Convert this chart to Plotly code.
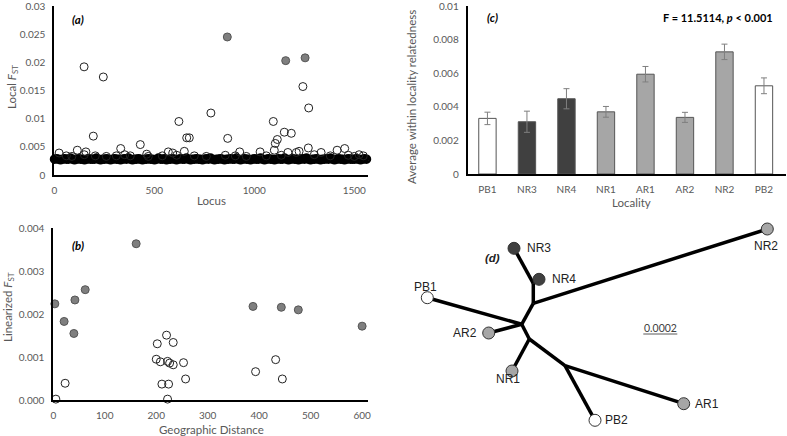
import plotly.graph_objects as go

W, H = 787, 436

# ---------------- (a) Local FST by locus ----------------
band_fst = [
    0.0028, 0.0029, 0.0028, 0.0027, 0.0028, 0.0029, 0.0028, 0.0028, 0.0030, 0.0028,
    0.0027, 0.0028, 0.0029, 0.0028, 0.0028, 0.0027, 0.0028, 0.0029, 0.0028, 0.0028,
    0.0028, 0.0030, 0.0028, 0.0027, 0.0028, 0.0028, 0.0029, 0.0028, 0.0027, 0.0028,
    0.0029, 0.0028, 0.0028, 0.0027, 0.0028, 0.0029, 0.0028, 0.0030, 0.0028, 0.0027,
    0.0028, 0.0028, 0.0029, 0.0028, 0.0027, 0.0028, 0.0028, 0.0029, 0.0028, 0.0028,
    0.0027, 0.0028, 0.0030, 0.0028, 0.0028, 0.0029, 0.0027, 0.0028, 0.0028, 0.0029,
    0.0028, 0.0027, 0.0028, 0.0029, 0.0028, 0.0028, 0.0030, 0.0028, 0.0027, 0.0028,
    0.0028, 0.0029, 0.0028, 0.0028, 0.0027, 0.0028, 0.0029, 0.0028, 0.0030, 0.0028,
    0.0027, 0.0028, 0.0028, 0.0029, 0.0028, 0.0027, 0.0028, 0.0028, 0.0029, 0.0028,
    0.0028, 0.0030, 0.0028, 0.0027, 0.0028, 0.0029, 0.0028, 0.0028, 0.0027, 0.0028,
    0.0029, 0.0028, 0.0028, 0.0030, 0.0028, 0.0027, 0.0028, 0.0029, 0.0028, 0.0028,
    0.0027, 0.0028, 0.0029, 0.0028, 0.0028, 0.0030, 0.0028, 0.0027, 0.0028, 0.0029,
    0.0028, 0.0028, 0.0027, 0.0028, 0.0029, 0.0028, 0.0030, 0.0028, 0.0027, 0.0028,
    0.0028, 0.0029, 0.0028, 0.0027, 0.0028, 0.0028, 0.0029, 0.0028, 0.0030, 0.0028,
    0.0027, 0.0028, 0.0029, 0.0028, 0.0028, 0.0027, 0.0028, 0.0029, 0.0028, 0.0028,
    0.0028, 0.0029, 0.0028, 0.0027, 0.0028, 0.0029, 0.0028,
]
band_locus = list(range(1, 1 + 10 * len(band_fst), 10))

open_locus = [24, 115, 149, 158, 195, 245, 332, 430, 462, 570, 592, 623, 650, 662, 675,
              783, 867, 927, 1029, 1095, 1100, 1105, 1115, 1150, 1168, 1185, 1210, 1224,
              1243, 1270, 1272, 1334, 1414, 1452, 1524,
              60, 88, 150, 205, 260, 310, 352, 380, 470, 540, 612, 700, 760, 855, 905,
              960, 1060, 1135, 1300, 1380, 1470, 1500, 1545]
open_fst = [0.0039, 0.0044, 0.0192, 0.0041, 0.0069, 0.0174, 0.0047, 0.0054, 0.0037, 0.0041,
            0.0039, 0.0095, 0.0042, 0.0066, 0.0066, 0.0110, 0.0065, 0.0041, 0.0041, 0.0095,
            0.0044, 0.0056, 0.0063, 0.0076, 0.0040, 0.0074, 0.0040, 0.0042, 0.0157, 0.0048,
            0.0119, 0.0040, 0.0044, 0.0047, 0.0036,
            0.0034, 0.0033, 0.0036, 0.0034, 0.0033, 0.0034, 0.0036, 0.0034, 0.0033, 0.0034,
            0.0035, 0.0034, 0.0033, 0.0035, 0.0034, 0.0033, 0.0034, 0.0035, 0.0036, 0.0034,
            0.0035, 0.0033, 0.0034]
outlier_locus = [865, 1157, 1254]
outlier_fst = [0.0245, 0.0203, 0.0208]

# ---------------- (b) Isolation by distance ----------------
gray_dist = [3, 21, 40, 42, 62, 161, 388, 443, 476, 600]
gray_fst = [0.00224, 0.00183, 0.00155, 0.00233, 0.00257, 0.00364, 0.00218, 0.00216, 0.00210, 0.00172]
open_dist = [5, 23, 202, 220, 233, 200, 208, 222, 226, 233, 253, 211, 224, 257, 222, 393, 432, 445]
open_lfst = [0.00002, 0.00039, 0.00131, 0.00151, 0.00134, 0.00095, 0.00089, 0.00090, 0.00086,
             0.00082, 0.00087, 0.00037, 0.00037, 0.00049, 0.00002, 0.00066, 0.00094, 0.00049]

# ---------------- (c) Relatedness by locality ----------------
localities = ["PB1", "NR3", "NR4", "NR1", "AR1", "AR2", "NR2", "PB2"]
relatedness = [0.00331, 0.00311, 0.00448, 0.00370, 0.00594, 0.00337, 0.00727, 0.00525]
rel_err = [0.00037, 0.00063, 0.00060, 0.00032, 0.00046, 0.00030, 0.00046, 0.00047]

# ---------------- (d) Tree (layout units) ----------------
tip_names = ["NR3", "NR4", "PB1", "AR2", "NR1", "PB2", "AR1", "NR2"]
tip_x = [119.0, 144.0, 32.3, 93.7, 117.0, 200.0, 288.7, 372.3]
tip_y = [33.3, 64.3, 82.7, 118.0, 156.0, 205.3, 188.7, 14.0]
inner_names = ["n1", "n2", "n3", "n4", "n5"]
inner_x = [138.3, 138.3, 126.7, 134.3, 170.0]
inner_y = [68.3, 88.3, 109.3, 124.0, 150.7]
edges = [("NR3", "n1"), ("n1", "NR4"), ("n1", "n2"), ("n2", "NR2"), ("n2", "n3"),
         ("PB1", "n3"), ("AR2", "n3"), ("n3", "n4"), ("n4", "NR1"), ("n4", "n5"),
         ("n5", "PB2"), ("n5", "AR1")]
scale_len = 34.0  # tree layout units for a 0.0002 branch

# ---------------- styling ----------------
TICK_FONT = dict(family="Lato, 'Open Sans', sans-serif", size=10, color="#595959")


def bar_col(name):
    if name.startswith("PB"):
        return "#ffffff"
    if name in ("NR3", "NR4"):
        return "#404040"
    return "#a6a6a6"


def px(x0, x1):
    return [x0 / W, x1 / W]


def py(ytop, ybot):
    return [1 - ybot / H, 1 - ytop / H]


fig = go.Figure()

# (a)
fig.add_trace(go.Scatter(x=band_locus, y=band_fst, mode="markers", xaxis="x", yaxis="y",
                         marker=dict(symbol="circle-open", size=7, color="black",
                                     line=dict(width=2.5, color="black")),
                         cliponaxis=False, showlegend=False, hoverinfo="skip"))
fig.add_trace(go.Scatter(x=open_locus, y=open_fst, mode="markers", xaxis="x", yaxis="y",
                         marker=dict(symbol="circle-open", size=8, color="#222222",
                                     line=dict(width=1)),
                         cliponaxis=False, showlegend=False))
fig.add_trace(go.Scatter(x=outlier_locus, y=outlier_fst, mode="markers", xaxis="x", yaxis="y",
                         marker=dict(symbol="circle", size=8, color="#7f7f7f",
                                     line=dict(width=1, color="#555555")),
                         cliponaxis=False, showlegend=False))

# (b)
fig.add_trace(go.Scatter(x=open_dist, y=open_lfst, mode="markers", xaxis="x2", yaxis="y2",
                         marker=dict(symbol="circle-open", size=8, color="#222222",
                                     line=dict(width=1)),
                         cliponaxis=False, showlegend=False))
fig.add_trace(go.Scatter(x=gray_dist, y=gray_fst, mode="markers", xaxis="x2", yaxis="y2",
                         marker=dict(symbol="circle", size=8, color="#7f7f7f",
                                     line=dict(width=1, color="#555555")),
                         cliponaxis=False, showlegend=False))

# (c)
fig.add_trace(go.Bar(x=list(range(len(localities))), y=relatedness, xaxis="x3", yaxis="y3",
                     width=0.44,
                     marker=dict(color=[bar_col(n) for n in localities],
                                 line=dict(color="#555555", width=1)),
                     error_y=dict(type="data", array=rel_err, visible=True,
                                  color="#7f7f7f", thickness=1, width=3),
                     showlegend=False))

# (d)
pos = {n: (x, y) for n, x, y in zip(tip_names, tip_x, tip_y)}
pos.update({n: (x, y) for n, x, y in zip(inner_names, inner_x, inner_y)})
ex, ey = [], []
for a, b in edges:
    ex += [pos[a][0], pos[b][0], None]
    ey += [pos[a][1], pos[b][1], None]
fig.add_trace(go.Scatter(x=ex, y=ey, mode="lines", xaxis="x4", yaxis="y4",
                         line=dict(color="black", width=3.5), showlegend=False,
                         hoverinfo="skip"))
fig.add_trace(go.Scatter(x=tip_x, y=tip_y, mode="markers", xaxis="x4", yaxis="y4",
                         marker=dict(size=12, color=[bar_col(n) for n in tip_names],
                                     line=dict(color="#333333", width=1)),
                         showlegend=False, cliponaxis=False))

label_anchor = {"NR3": ("left", 11, 0), "NR4": ("left", 11, 0), "PB1": ("center", -2, -11),
                "AR2": ("right", -10, 0), "NR1": ("center", -4, 8), "PB2": ("left", 8, 0),
                "AR1": ("left", 9, 0), "NR2": ("center", -1, 17)}
annotations = []
for n, x, y in zip(tip_names, tip_x, tip_y):
    anc, dx, dy = label_anchor[n]
    annotations.append(dict(x=x, y=y, xref="x4", yref="y4", text=n, showarrow=False,
                            xanchor=anc, yanchor="middle", xshift=dx, yshift=-dy,
                            font=dict(family="Liberation Sans, Arial", size=12, color="#222222")))

# scale bar
fig.add_shape(type="line", xref="x4", yref="y4", x0=248.3, x1=248.3 + scale_len, y0=119, y1=119,
              line=dict(color="#595959", width=1))
annotations.append(dict(x=248.3 + scale_len / 2, y=113.3, xref="x4", yref="y4", text="0.0002",
                        showarrow=False, xanchor="center", yanchor="middle",
                        font=dict(family="Lato, 'Open Sans', sans-serif", size=10.5, color="#404040")))


def ann(x, y, text, size=11.5, angle=0, color="#595959", family="Lato, 'Open Sans', sans-serif",
        xanchor="center"):
    annotations.append(dict(x=x / W, y=1 - y / H, xref="paper", yref="paper", text=text,
                            showarrow=False, textangle=angle, xanchor=xanchor, yanchor="middle",
                            font=dict(family=family, size=size, color=color)))


# axis titles
ann(13, 87, "Local <i>F</i><sub>ST</sub>", angle=-90)
ann(211, 200, "Locus")
ann(8, 307, "Linearized <i>F</i><sub>ST</sub>", angle=-90)
ann(211, 429, "Geographic Distance")
ann(412, 97, "Average within locality relatedness", angle=-90)
ann(631, 203, "Locality")

# panel letters
ann(78, 19, "<b><i>(a)</i></b>", size=11.5, color="black")
ann(78, 246, "<b><i>(b)</i></b>", size=11.5, color="black")
ann(492, 18, "<b><i>(c)</i></b>", size=11.5, color="black")
ann(492, 258, "<b><i>(d)</i></b>", size=11.5, color="#222222", family="Liberation Sans, Arial")
ann(718, 18, "<b>F = 11.5114, <i>p</i> < 0.001</b>", size=11, color="black")

axis_common = dict(showgrid=False, zeroline=False, showline=True, linecolor="black",
                   linewidth=2, ticks="", tickfont=TICK_FONT, ticklabelstandoff=5,
                   ticklabeloverflow="allow", fixedrange=True)

fig.update_layout(
    width=W, height=H, margin=dict(l=0, r=0, t=0, b=0, autoexpand=False),
    paper_bgcolor="white", plot_bgcolor="white", showlegend=False,
    xaxis=dict(domain=px(54.3, 368.3), range=[0, 1570], anchor="y",
               tickvals=[0, 500, 1000, 1500], **axis_common),
    yaxis=dict(domain=py(6, 175), range=[0, 0.03], anchor="x",
               tickvals=[0, 0.005, 0.01, 0.015, 0.02, 0.025, 0.03], **axis_common),
    xaxis2=dict(domain=px(53.3, 368.3), range=[0, 612], anchor="y2",
                tickvals=[0, 100, 200, 300, 400, 500, 600], **axis_common),
    yaxis2=dict(domain=py(228.3, 400), range=[0, 0.004], anchor="x2",
                tickvals=[0, 0.001, 0.002, 0.003, 0.004], tickformat=".3f", **axis_common),
    xaxis3=dict(domain=px(467.7, 785.7), range=[-0.5, 7.55], anchor="y3",
                tickvals=list(range(len(localities))), ticktext=localities, **axis_common),
    yaxis3=dict(domain=py(6, 174), range=[0, 0.01], anchor="x3",
                tickvals=[0, 0.002, 0.004, 0.006, 0.008, 0.01], **axis_common),
    xaxis4=dict(domain=px(395, 787), range=[0, 392], anchor="y4", visible=False, fixedrange=True),
    yaxis4=dict(domain=py(215, 436), range=[221, 0], anchor="x4", visible=False, fixedrange=True),
    annotations=annotations,
)

fig.write_html("out.html", config={"displayModeBar": False},
               post_script="document.body.style.margin='0';document.body.style.padding='0';")
